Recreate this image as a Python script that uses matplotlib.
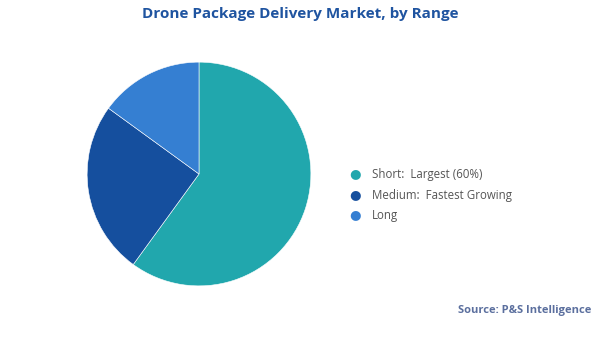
import matplotlib
matplotlib.use("Agg")
import matplotlib.pyplot as plt

# Market share by delivery range
categories = ["Short", "Medium", "Long"]
shares = [60, 25, 15]
legend_labels = ["Short:  Largest (60%)", "Medium:  Fastest Growing", "Long"]
colors = ["#21a7ad", "#154f9e", "#357fd2"]

plt.rcParams["font.family"] = ["Open Sans", "DejaVu Sans"]

fig = plt.figure(figsize=(6.0, 3.37), dpi=100)
fig.patch.set_facecolor("white")

# Pie axes: centre ~(199,174) px, radius ~112 px
ax = fig.add_axes([(199 - 113) / 600, 1 - (174 + 113) / 337, 226 / 600, 226 / 337])
ax.pie(shares, colors=colors, startangle=90, counterclock=False,
       wedgeprops=dict(edgecolor="white", linewidth=0.4))
ax.set_aspect("equal")
ax.set_xlim(-1.01, 1.01)
ax.set_ylim(-1.01, 1.01)
ax.axis("off")

fig.text(0.5, 1 - 14 / 337, "Drone Package Delivery Market, by Range",
         ha="center", va="center", fontsize=11, fontweight="bold", color="#1f54a0")

# Legend drawn as marker + text rows
ys = [174, 195, 215]
for lab, col, y in zip(legend_labels, colors, ys):
    fig.text(355 / 600, 1 - y / 337, "●", ha="center", va="center",
             fontsize=9.5, color=col, family="DejaVu Sans")
    fig.text(372 / 600, 1 - (y + 0.5) / 337, lab, ha="left", va="center",
             fontsize=8.3, color="#555555")

fig.text(591 / 600, 1 - 311 / 337, "Source: P&S Intelligence", ha="right", va="center",
         fontsize=8, fontweight="bold", color="#5b6f9e")

fig.savefig("out.png", dpi=100, facecolor="white")
